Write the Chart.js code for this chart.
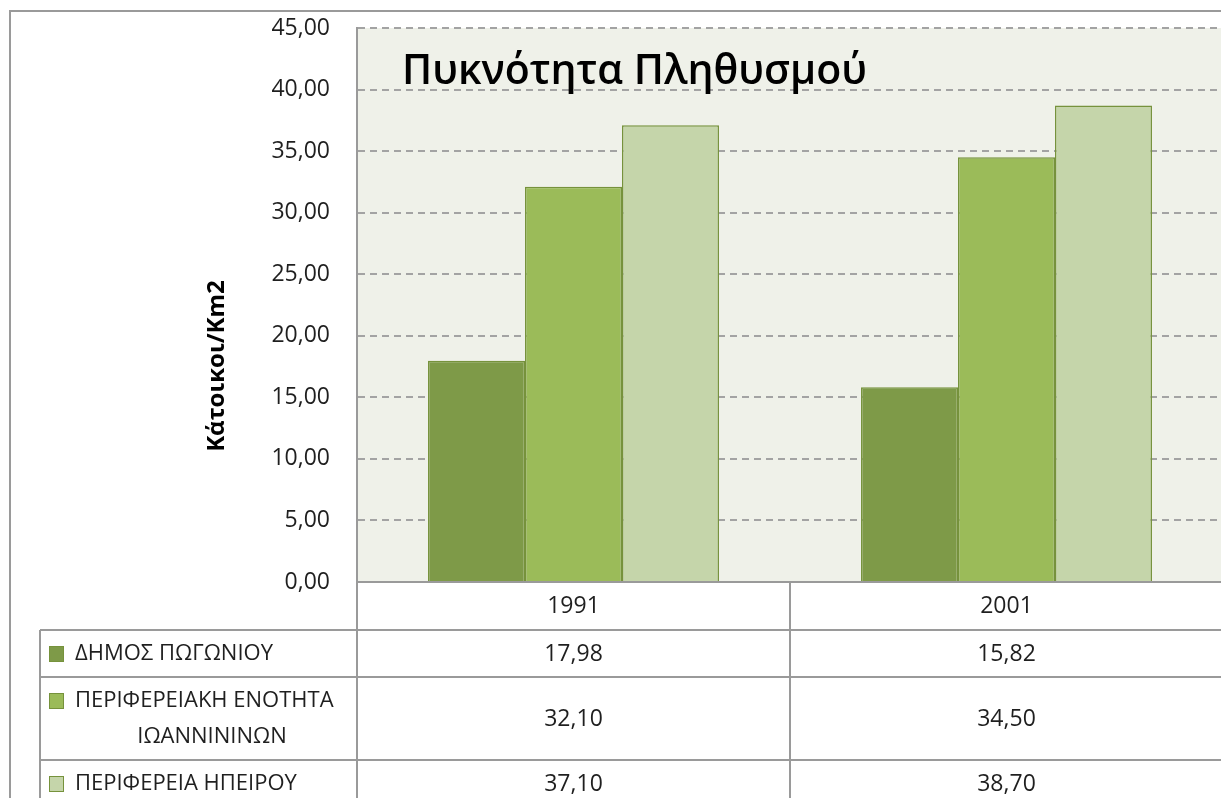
<!DOCTYPE html>
<html>
<head>
<meta charset="utf-8">
<script src="https://cdn.jsdelivr.net/npm/chart.js@4/dist/chart.umd.min.js"></script>
<style>
  html, body { margin: 0; padding: 0; background: #fff; overflow: hidden; }
  #wrap { width: 1221px; height: 798px; overflow: hidden; }
  canvas { display: block; }
</style>
</head>
<body>
<div id="wrap"><canvas id="densityChart" width="1228" height="798"></canvas></div>
<script>
const categories = ['1991', '2001'];
const seriesNames = ['ΔΗΜΟΣ ΠΩΓΩΝΙΟΥ', 'ΠΕΡΙΦΕΡΕΙΑΚΗ ΕΝΟΤΗΤΑ ΙΩΑΝΝΙΝΙΝΩΝ', 'ΠΕΡΙΦΕΡΕΙΑ ΗΠΕΙΡΟΥ'];
const pogoniValues = [17.98, 15.82];
const ioanninaValues = [32.10, 34.50];
const ipeirosValues = [37.10, 38.70];
const seriesColors = ['#7e9a48', '#9bbb59', '#c5d5aa'];

const fontFamily = '"Open Sans", "Noto Sans", sans-serif';
const lineColor = '#9a9a9a';
const textColor = '#1f1f1f';

function fmt(v) {
    return v.toFixed(2).replace('.', ',');
}

// plot background, outer frame, axis title and the data table under the axis
const tablePlugin = {
    id: 'tablePlugin',
    beforeDraw(chart) {
        const {ctx, chartArea} = chart;
        ctx.save();
        ctx.fillStyle = '#eff1e9';
        ctx.fillRect(chartArea.left, chartArea.top, chartArea.right - chartArea.left, chartArea.bottom - chartArea.top);
        ctx.restore();
    },
    afterDraw(chart) {
        const {ctx, chartArea} = chart;
        const W = chart.width, H = chart.height;
        const left = chartArea.left, right = chartArea.right, bottom = chartArea.bottom;
        const colW = (right - left) / categories.length;
        const rowLines = [630, 677, 760];
        const legendLeft = 40;

        ctx.save();
        ctx.strokeStyle = lineColor;
        ctx.lineWidth = 2;
        ctx.beginPath();
        // outer frame
        ctx.moveTo(10, H); ctx.lineTo(10, 11); ctx.lineTo(W, 11);
        // axis base line
        ctx.moveTo(left - 1, bottom); ctx.lineTo(W, bottom);
        // row lines
        rowLines.forEach(y => { ctx.moveTo(legendLeft, y); ctx.lineTo(W, y); });
        // column lines
        ctx.moveTo(left, bottom); ctx.lineTo(left, H);
        for (let i = 1; i < categories.length; i++) {
            const x = Math.round(left + colW * i);
            ctx.moveTo(x, bottom); ctx.lineTo(x, H);
        }
        ctx.moveTo(legendLeft, rowLines[0]); ctx.lineTo(legendLeft, H);
        ctx.stroke();

        ctx.fillStyle = textColor;
        ctx.textAlign = 'center';
        ctx.textBaseline = 'middle';
        ctx.font = '23px ' + fontFamily;
        categories.forEach((c, i) => ctx.fillText(c, left + colW * (i + 0.5), 606));

        const rowMid = [654, 719, 784];
        const allValues = [pogoniValues, ioanninaValues, ipeirosValues];
        allValues.forEach((vals, r) => {
            vals.forEach((v, i) => ctx.fillText(fmt(v), left + colW * (i + 0.5), rowMid[r]));
        });

        // legend keys and series names
        const firstLineY = [654, 701, 784];
        ctx.font = '22px ' + fontFamily;
        seriesNames.forEach((name, r) => {
            const y = firstLineY[r];
            ctx.fillStyle = seriesColors[r];
            ctx.fillRect(49, y - 8, 15, 16);
            ctx.strokeStyle = '#76923c';
            ctx.lineWidth = 1;
            ctx.strokeRect(49.5, y - 7.5, 14, 15);
            ctx.fillStyle = textColor;
            if (r === 1) {
                ctx.textAlign = 'left';
                ctx.fillText('ΠΕΡΙΦΕΡΕΙΑΚΗ ΕΝΟΤΗΤΑ', 75, y);
                ctx.textAlign = 'center';
                ctx.fillText('ΙΩΑΝΝΙΝΙΝΩΝ', 212, 737);
            } else {
                ctx.textAlign = 'left';
                ctx.fillText(name, 75, y);
            }
        });

        // rotated value axis title
        ctx.save();
        ctx.translate(217, 366);
        ctx.rotate(-Math.PI / 2);
        ctx.textAlign = 'center';
        ctx.font = 'bold 24px ' + fontFamily;
        ctx.fillStyle = '#000';
        ctx.fillText('Κάτοικοι/Km2', 0, 0);
        ctx.restore();

        // chart title inside the plot
        ctx.textAlign = 'left';
        ctx.textBaseline = 'alphabetic';
        ctx.font = '600 41px ' + fontFamily;
        ctx.fillStyle = '#000';
        ctx.fillText('Πυκνότητα Πληθυσμού', 402, 84);
        ctx.restore();
    }
};

const ctx = document.getElementById('densityChart').getContext('2d');
const chart = new Chart(ctx, {
    type: 'bar',
    data: {
        labels: categories,
        datasets: [pogoniValues, ioanninaValues, ipeirosValues].map((vals, i) => ({
            label: seriesNames[i],
            data: vals,
            backgroundColor: seriesColors[i],
            borderColor: '#76923c',
            borderWidth: 1.5,
            barPercentage: 1,
            categoryPercentage: 0.672
        }))
    },
    plugins: [tablePlugin],
    options: {
        responsive: false,
        animation: false,
        layout: { padding: { left: 0, top: 28, right: 5, bottom: 216 } },
        plugins: {
            legend: { display: false },
            tooltip: { enabled: false }
        },
        scales: {
            x: {
                ticks: { display: false },
                grid: { display: false, drawTicks: false },
                border: { display: false },
                afterFit: scale => { scale.height = 0; }
            },
            y: {
                min: 0,
                max: 45,
                ticks: {
                    stepSize: 5,
                    padding: 27,
                    color: textColor,
                    font: { family: fontFamily, size: 23 },
                    callback: v => fmt(v)
                },
                grid: {
                    color: ctx => ctx.tick.value === 0 ? 'rgba(0,0,0,0)' : '#a3a3a3',
                    lineWidth: 2,
                    drawTicks: false
                },
                border: { display: true, color: lineColor, width: 2, dash: [7, 5] },
                afterFit: scale => {
                    scale.width = 357;
                    scale.paddingTop = 0;
                    scale.paddingBottom = 0;
                }
            }
        }
    }
});
</script>
</body>
</html>
